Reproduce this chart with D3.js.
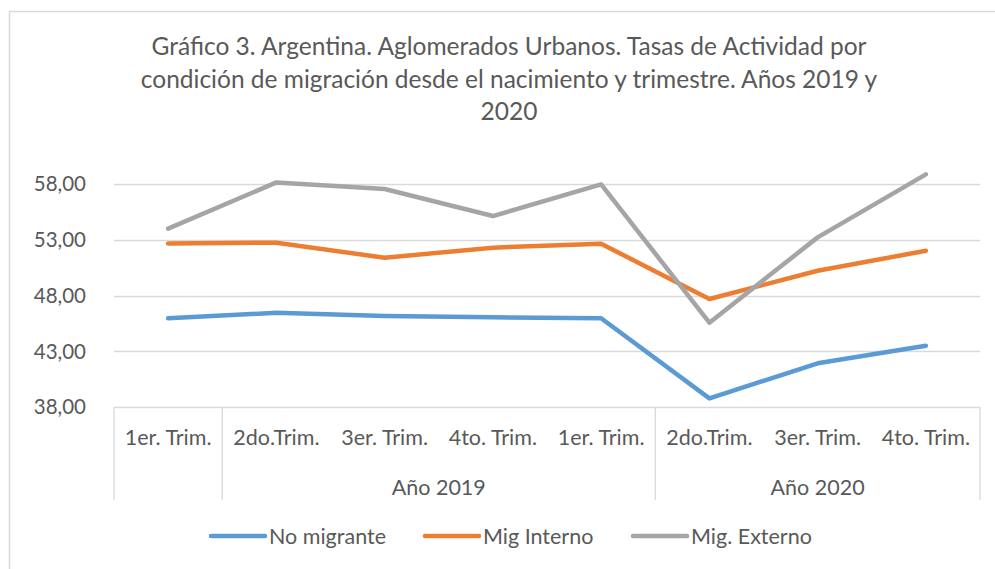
<!DOCTYPE html>
<html>
<head>
<meta charset="utf-8">
<script src="https://cdn.jsdelivr.net/npm/d3@7"></script>
<style>
  body { margin: 0; background: #fff; }
  text { font-family: Lato, "Open Sans", sans-serif; fill: #595959; }
</style>
</head>
<body>
<div id="chart"></div>
<script>
// datos
var trimestres = ["1er. Trim.", "2do.Trim.", "3er. Trim.", "4to. Trim.", "1er. Trim.", "2do.Trim.", "3er. Trim.", "4to. Trim."];
var anios = ["Año 2019", "Año 2020"];
var anioDesde = [1, 5];
var anioHasta = [4, 7];
var noMigrante = [45.97, 46.47, 46.17, 46.06, 45.97, 38.80, 41.94, 43.52];
var migInterno = [52.68, 52.74, 51.40, 52.30, 52.65, 47.70, 50.23, 52.02];
var migExterno = [54.00, 58.14, 57.55, 55.13, 57.96, 45.58, 53.22, 58.86];
var ticksY = [38, 43, 48, 53, 58];
var series = ["No migrante", "Mig Interno", "Mig. Externo"];
var colores = ["#5b9bd5", "#ed7d31", "#a5a5a5"];

var W = 995, H = 569;
var svg = d3.select("#chart").append("svg")
  .attr("width", W).attr("height", H);

// borde del area del grafico
svg.append("rect")
  .attr("x", 9.5).attr("y", 11.5)
  .attr("width", W + 20).attr("height", H + 20)
  .attr("fill", "none").attr("stroke", "#d9d9d9").attr("stroke-width", 1.5);

// titulo
var titulo = ["Gráfico 3. Argentina. Aglomerados Urbanos. Tasas de Actividad por",
              "condición de migración desde el nacimiento y trimestre. Años 2019 y",
              "2020"];
svg.append("g").selectAll("text")
  .data(titulo).enter().append("text")
  .attr("x", 509).attr("y", function(d, i){ return 55 + i * 32.5; })
  .attr("text-anchor", "middle")
  .attr("font-size", 24.5)
  .text(function(d){ return d; });

var x = d3.scaleBand().domain(d3.range(trimestres.length)).range([114, 980]);
var y = d3.scaleLinear().domain([38, 58]).range([407.3, 184]);

var loc = d3.formatLocale({decimal: ",", thousands: ".", grouping: [3], currency: ["$", ""]});

// lineas de grilla
svg.append("g").selectAll("line")
  .data(ticksY).enter().append("line")
  .attr("x1", 114).attr("x2", 980)
  .attr("y1", function(d){ return Math.round(y(d)) + 0.5; })
  .attr("y2", function(d){ return Math.round(y(d)) + 0.5; })
  .attr("stroke", "#d9d9d9").attr("stroke-width", 1.3);

// eje Y
var ejeY = svg.append("g")
  .attr("transform", "translate(92,0)")
  .call(d3.axisLeft(y).tickValues(ticksY).tickSize(0).tickPadding(6).tickFormat(loc.format(".2f")));
ejeY.select(".domain").remove();
ejeY.selectAll("text").attr("font-size", 20.5).attr("font-family", null).attr("fill", "#595959");

// eje X (categorias)
var ejeX = svg.append("g")
  .attr("transform", "translate(0,407)")
  .call(d3.axisBottom(x).tickSize(0).tickPadding(23).tickFormat(function(i){ return trimestres[i]; }));
ejeX.select(".domain").remove();
ejeX.selectAll("text").attr("font-size", 21.5).attr("font-family", null).attr("fill", "#595959");

// separadores de grupos
var cortes = [0, anioDesde[0], anioDesde[1], trimestres.length];
svg.append("g").selectAll("line")
  .data(cortes).enter().append("line")
  .attr("x1", function(d){ return d < trimestres.length ? x(d) : x.range()[1]; })
  .attr("x2", function(d){ return d < trimestres.length ? x(d) : x.range()[1]; })
  .attr("y1", 407).attr("y2", 500)
  .attr("stroke", "#d9d9d9").attr("stroke-width", 1.3);

// etiquetas de anio
svg.append("g").selectAll("text")
  .data(anios).enter().append("text")
  .attr("x", function(d, i){ return (x(anioDesde[i]) + x(anioHasta[i]) + x.bandwidth()) / 2; })
  .attr("y", 495)
  .attr("text-anchor", "middle")
  .attr("font-size", 21.5)
  .text(function(d){ return d; });

// lineas
var linea = d3.line()
  .x(function(d, i){ return x(i) + x.bandwidth() / 2; })
  .y(function(d){ return y(d); });

var datos = [noMigrante, migInterno, migExterno];
svg.append("g").selectAll("path")
  .data(datos).enter().append("path")
  .attr("d", linea)
  .attr("fill", "none")
  .attr("stroke", function(d, i){ return colores[i]; })
  .attr("stroke-width", 4.5)
  .attr("stroke-linecap", "round")
  .attr("stroke-linejoin", "round");

// leyenda
var leyX = [211, 425, 633];
var ley = svg.append("g").selectAll("g")
  .data(series).enter().append("g")
  .attr("transform", function(d, i){ return "translate(" + leyX[i] + ",536)"; });
ley.append("line")
  .attr("x1", 0).attr("x2", 54)
  .attr("stroke", function(d, i){ return colores[i]; })
  .attr("stroke-width", 4.5).attr("stroke-linecap", "round");
ley.append("text")
  .attr("x", 58).attr("y", 7.5)
  .attr("font-size", 21.5)
  .text(function(d){ return d; });
</script>
</body>
</html>
